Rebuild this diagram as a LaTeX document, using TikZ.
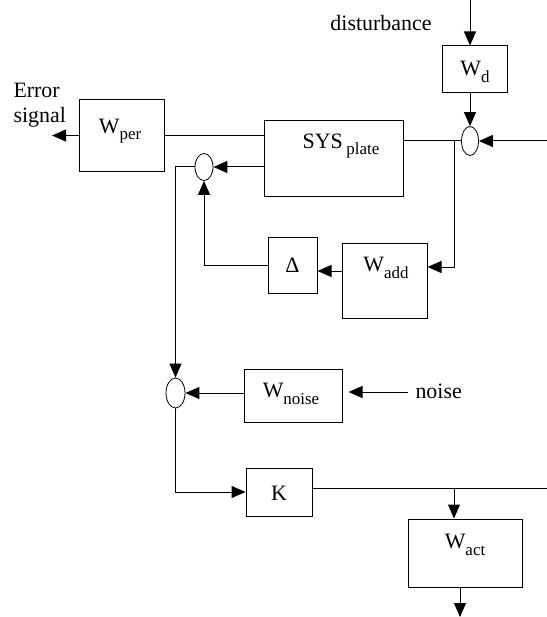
\documentclass[tikz,border=0pt]{standalone}
\usepackage{fontspec}
\setmainfont{Liberation Serif}
\usetikzlibrary{arrows.meta,shapes.geometric,calc}
\newcommand\sbs[1]{\raisebox{-0.3em}{\fontsize{17}{19}\selectfont #1}}
\begin{document}
\begin{tikzpicture}[x=1bp,y=-1bp, line width=1bp,
  blk/.style={draw, rectangle, inner sep=0pt},
  sumj/.style={draw, ellipse, inner sep=0pt, line width=0.8bp},
  lbl/.style={inner sep=0pt, font=\fontsize{22}{25}\selectfont},
  sig/.style={-{Triangle[length=14bp,width=12bp]}},
]
\useasboundingbox (0,0) rectangle (547,617);

% blocks
\node[blk, minimum width=65bp, minimum height=47bp] (Wd) at (474.5,69.5) {};
\node[blk, minimum width=85bp, minimum height=71bp] (Wper) at (121.5,135.5) {};
\node[blk, minimum width=139bp, minimum height=75bp] (SYS) at (333.5,158.5) {};
\node[blk, minimum width=49bp, minimum height=56bp] (Delta) at (292.5,265) {};
\node[blk, minimum width=85bp, minimum height=75bp] (Wadd) at (384.5,280.5) {};
\node[blk, minimum width=98bp, minimum height=53bp] (Wnoise) at (293,395.5) {};
\node[blk, minimum width=66bp, minimum height=48bp] (K) at (279,492) {};
\node[blk, minimum width=114bp, minimum height=68bp] (Wact) at (465,553) {};

% summing junctions
\node[sumj, minimum width=17bp, minimum height=29bp] (S1) at (470,141) {};
\node[sumj, minimum width=18bp, minimum height=27bp] (S2) at (204,167) {};
\node[sumj, minimum width=19bp, minimum height=30bp] (S3) at (175.5,393) {};

% texts
\node[lbl] (tWd) at (475,72) {W\sbs{d}};
\node[lbl] (tWper) at (120,131) {W\sbs{per}};
\node[lbl] (tSYS) at (341,146) {SYS\,\sbs{plate}};
\node[lbl] (tDelta) at (292.5,265) {Δ};
\node[lbl] (tWadd) at (386,268) {W\sbs{add}};
\node[lbl] (tWnoise) at (291,394) {W\sbs{noise}};
\node[lbl] (tK) at (279,493) {K};
\node[lbl] (tWact) at (465,545) {W\sbs{act}};
\node[lbl] (tdist) at (381,23) {disturbance};
\node[lbl, align=left, anchor=west] (terr) at (13,105) {Error\\signal};
\node[lbl, anchor=west] (tnoise) at (415,391) {noise};

% free ends
\coordinate (dist) at (470,0);
\coordinate (rin) at (547,141);
\coordinate (br1) at (454,141);
\coordinate (err) at (52,135.5);
\coordinate (nz) at (408,392);
\coordinate (kend) at (547,0);
\coordinate (br2) at (454,488);
\coordinate (actout) at (460,617);
\coordinate (waddin) at ($(Wadd.east)+(0,-13.5)$);
\coordinate (waddout) at ($(Wadd.west)+(0,-9.5)$);
\coordinate (kout) at ($(K.east)+(0,-4)$);

% connectors
\draw[sig] (dist) -- (dist |- Wd.north);
\draw[sig] (S1 |- Wd.south) -- (S1.north);
\draw[sig] (rin) -- (S1.east);
\draw (S1.west) -- (S1.west -| SYS.east);
\draw[sig] (br1) |- (waddin);
\draw[sig] (waddout) -- (waddout -| Delta.east);
\draw[sig] (Delta.west) -| (S2.south);
\draw[sig] (SYS.west |- S2) -- (S2.east);
\draw (Wper.east) -- (Wper.east -| SYS.west);
\draw[sig] (Wper.west) -- (err);
\draw[sig] (S2.west) -| (S3.north);
\draw[sig, shorten >=6bp] (nz) -- (nz -| Wnoise.east);
\draw[sig] (Wnoise.west |- S3) -- (S3.east);
\draw[sig] (S3.south) |- (K.west);
\draw (kout) -- (kout -| kend);
\draw[sig] (br2) -- (br2 |- Wact.north);
\draw[sig] (actout |- Wact.south) -- (actout);
\end{tikzpicture}
\end{document}
